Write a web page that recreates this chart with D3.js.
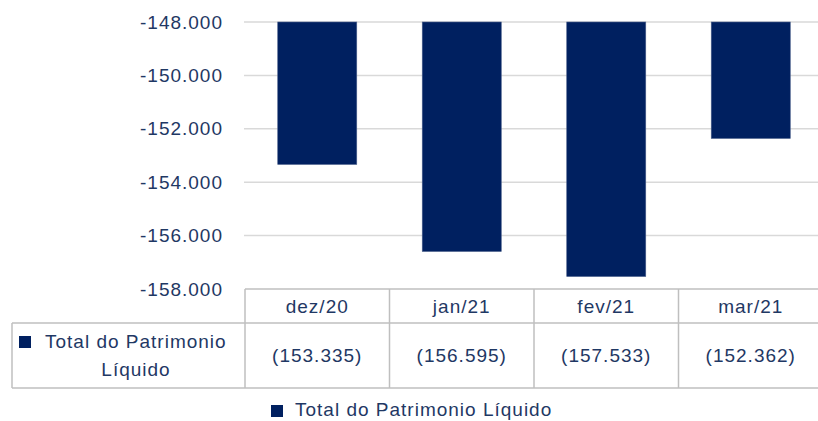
<head>
    <meta charset="utf-8">
    <script src="https://d3js.org/d3.v7.min.js"></script>
    <style>
        body {
            margin: 0;
            overflow: hidden;
            background: #fff;
        }
        text {
            font-family: "Liberation Sans", Arial, sans-serif;
            font-size: 19px;
            letter-spacing: 1px;
            fill: #1f3864;
        }
    </style>
</head>

<body>

<svg width="818" height="421"></svg>

<script>

    var months = ["dez/20", "jan/21", "fev/21", "mar/21"];
    var patrimonio = [-153335, -156595, -157533, -152362];
    var yTicks = [-148000, -150000, -152000, -154000, -156000, -158000];
    var seriesName = "Total do Patrimonio Líquido";

    var svg = d3.select("svg");

    var navy = "#002060",
        grid = "#d9d9d9",
        border = "#bfbfbf";

    //
    // scales
    //

    var plotLeft = 245, plotRight = 823;

    var xCol = d3.scaleBand()
        .domain(months)
        .range([plotLeft, plotRight]);

    var x = d3.scaleBand()
        .domain(months)
        .range([plotLeft, plotRight])
        .paddingInner(0.453)
        .paddingOuter(0.2265);

    var y = d3.scaleLinear()
        .domain([-148000, -158000])
        .range([22, 289]);

    var fmtAxis = v => "-" + d3.format(".3f")(-v / 1000)
    var fmtTable = v => "(" + d3.format(".3f")(-v / 1000) + ")"

    //
    // gridlines and y axis
    //

    svg.append("g")
        .selectAll("line")
        .data(yTicks.slice(0, -1))
        .join("line")
        .attr("x1", plotLeft - 1)
        .attr("x2", 818)
        .attr("y1", d => y(d))
        .attr("y2", d => y(d))
        .attr("stroke", grid)
        .attr("stroke-width", 1.5);

    var yAxis = svg.append("g")
        .attr("transform", "translate(" + (plotLeft - 22) + ",0)")
        .call(d3.axisLeft(y).tickValues(yTicks).tickSize(0).tickPadding(0).tickFormat(fmtAxis));

    yAxis.select(".domain").remove();
    yAxis.selectAll("text")
        .attr("fill", "#1f3864")
        .style("font-size", "19px")
        .style("font-family", "'Liberation Sans', Arial, sans-serif");

    //
    // bars (hanging from the top of the axis)
    //

    svg.append("g")
        .selectAll("rect")
        .data(months)
        .join("rect")
        .attr("x", d => x(d))
        .attr("width", x.bandwidth())
        .attr("y", y(-148000))
        .attr("height", (d, i) => y(patrimonio[i]) - y(-148000))
        .attr("fill", navy)
        .attr("stroke", "#4a5f8a")
        .attr("stroke-width", 0.6);

    //
    // data table
    //

    var tTop = 289, tMid = 323, tBot = 388, tLeft = 12;

    var table = svg.append("g")
        .attr("fill", "none")
        .attr("stroke", border)
        .attr("stroke-width", 1.5);

    table.append("line").attr("x1", plotLeft).attr("x2", 818).attr("y1", tTop).attr("y2", tTop);
    table.append("line").attr("x1", tLeft).attr("x2", 818).attr("y1", tMid).attr("y2", tMid);
    table.append("line").attr("x1", tLeft).attr("x2", 818).attr("y1", tBot).attr("y2", tBot);
    table.append("line").attr("x1", tLeft).attr("x2", tLeft).attr("y1", tMid).attr("y2", tBot);

    table.selectAll(".col")
        .data(months)
        .join("line")
        .attr("class", "col")
        .attr("x1", d => xCol(d))
        .attr("x2", d => xCol(d))
        .attr("y1", tTop)
        .attr("y2", tBot);

    svg.append("g")
        .selectAll("text")
        .data(months)
        .join("text")
        .attr("x", d => xCol(d) + xCol.bandwidth() / 2)
        .attr("y", (tTop + tMid) / 2)
        .attr("dy", "0.35em")
        .attr("text-anchor", "middle")
        .text(d => d);

    svg.append("g")
        .selectAll("text")
        .data(months)
        .join("text")
        .attr("x", d => xCol(d) + xCol.bandwidth() / 2)
        .attr("y", (tMid + tBot) / 2)
        .attr("dy", "0.35em")
        .attr("text-anchor", "middle")
        .text((d, i) => fmtTable(patrimonio[i]));

    // row header
    svg.append("rect")
        .attr("x", 19).attr("y", 336)
        .attr("width", 12).attr("height", 12)
        .attr("fill", navy);

    svg.append("text")
        .attr("x", 45).attr("y", 348)
        .text("Total do Patrimonio");

    svg.append("text")
        .attr("x", 136).attr("y", 376)
        .attr("text-anchor", "middle")
        .text("Líquido");

    //
    // legend
    //

    svg.append("rect")
        .attr("x", 271).attr("y", 405)
        .attr("width", 12).attr("height", 12)
        .attr("fill", navy);

    svg.append("text")
        .attr("x", 295).attr("y", 416)
        .text(seriesName);

</script>
</body>
